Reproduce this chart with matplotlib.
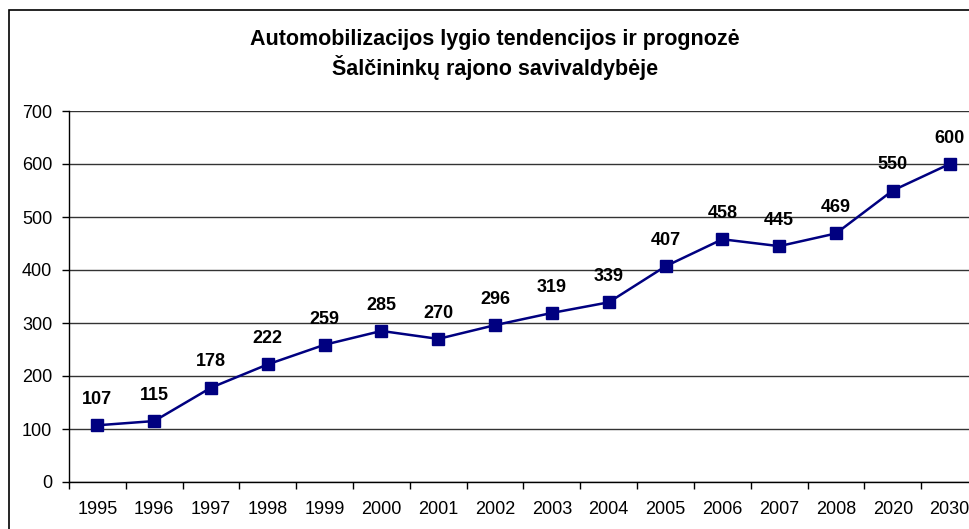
import matplotlib
matplotlib.use("Agg")
import matplotlib.pyplot as plt
from matplotlib.patches import Rectangle

plt.rcParams['font.family'] = ['Liberation Sans', 'DejaVu Sans']

# duomenys
years = ['1995', '1996', '1997', '1998', '1999', '2000', '2001', '2002',
         '2003', '2004', '2005', '2006', '2007', '2008', '2020', '2030']
values = [107, 115, 178, 222, 259, 285, 270, 296, 319, 339, 407, 458, 445, 469, 550, 600]
title = "Automobilizacijos lygio tendencijos ir prognozė\nŠalčininkų rajono savivaldybėje"

W, H = 970, 529
fig = plt.figure(figsize=(W / 100, H / 100), dpi=100)

# chart frame (cropped on the right and bottom)
fig.patches.append(Rectangle((9 / W, -0.1), 1.2, 1 - 10 / H + 0.1, transform=fig.transFigure,
                             fill=False, edgecolor='black', linewidth=1.2, zorder=0))

ax = fig.add_axes([69 / W, 1 - 482 / H, (978 - 69) / W, (482 - 111) / H])
x = list(range(len(years)))
ax.plot(x, values, color='#000080', linewidth=1.8, marker='s', markersize=8,
        markerfacecolor='#000080', markeredgecolor='#000080', zorder=3, clip_on=False)

for xi, v in zip(x, values):
    ax.annotate(str(v), (xi, v), xytext=(0, 18.5), textcoords='offset points',
                ha='center', va='center', fontsize=13, fontweight='bold')

ax.set_xlim(-0.5, len(years) - 0.5)
ax.set_ylim(0, 700)
ax.set_yticks(range(0, 701, 100))
ax.set_xticks([i - 0.5 for i in range(len(years) + 1)], minor=False)
ax.set_xticklabels([])
ax.set_xticks(x, minor=True)
ax.set_xticklabels(years, minor=True)
ax.tick_params(axis='x', which='minor', length=0, pad=14, labelsize=13)
ax.tick_params(axis='x', which='major', length=5, direction='out', width=1)
ax.tick_params(axis='y', length=5, direction='out', width=1, labelsize=13, pad=7)

ax.grid(axis='y', color='#333333', linewidth=1)
ax.set_axisbelow(True)
for s in ['top', 'right']:
    ax.spines[s].set_visible(False)
for s in ['left', 'bottom']:
    ax.spines[s].set_linewidth(1)

fig.text(495 / W, 1 - 54 / H, title, ha='center', va='center', fontsize=15.5,
         fontweight='bold', linespacing=1.25)

fig.savefig('out.png', dpi=100)
